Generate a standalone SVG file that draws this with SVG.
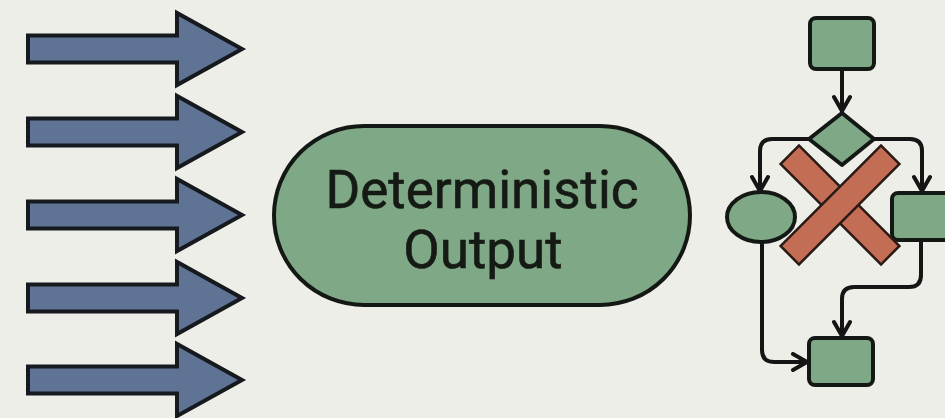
<svg xmlns="http://www.w3.org/2000/svg" width="945" height="418" viewBox="0 0 945 418">
  <defs>
    <style>
      .bg { fill: #eeeee8; }
      .input { fill: #5f7395; stroke: #161a1e; stroke-width: 4; stroke-linejoin: miter; }
      .node { fill: #7fa886; stroke: #141814; stroke-width: 4; }
      .label { font-family: Roboto, "Liberation Sans", sans-serif; font-size: 53px; fill: #151a15; text-anchor: middle; stroke: #151a15; stroke-width: 0.6; }
      .link { fill: none; stroke: #151515; stroke-width: 4; stroke-linecap: round; stroke-linejoin: round; }
      .cross { fill: #c46d55; stroke: #2a1a15; stroke-width: 2.5; }
    </style>
    <marker id="chevron" viewBox="0 0 20 20" refX="17" refY="10" markerWidth="20" markerHeight="20" markerUnits="userSpaceOnUse" orient="auto">
      <path d="M3 2 L17 10 L3 18" fill="none" stroke="#151515" stroke-width="4" stroke-linecap="round" stroke-linejoin="round"/>
    </marker>
  </defs>

  <rect class="bg" x="0" y="0" width="945" height="418"/>

  <!-- incoming block arrows -->
  <g id="inputs">
    <path class="input" d="M28 35.5 H177 V13 L242 49 L177 85 V62.5 H28 Z"/>
    <path class="input" d="M28 35.5 H177 V13 L242 49 L177 85 V62.5 H28 Z" transform="translate(0,83)"/>
    <path class="input" d="M28 35.5 H177 V13 L242 49 L177 85 V62.5 H28 Z" transform="translate(0,166)"/>
    <path class="input" d="M28 35.5 H177 V13 L242 49 L177 85 V62.5 H28 Z" transform="translate(0,249)"/>
    <path class="input" d="M28 35.5 H177 V13 L242 49 L177 85 V62.5 H28 Z" transform="translate(0,331)"/>
  </g>

  <!-- central result node -->
  <g id="deterministic-output">
    <rect class="node" x="274" y="126" width="416" height="179" rx="90" ry="89.5"/>
    <text class="label" x="482" y="208">Deterministic</text>
    <text class="label" x="483" y="268">Output</text>
  </g>

  <!-- flowchart connectors -->
  <g id="connectors">
    <path class="link" d="M842 69 V111" marker-end="url(#chevron)"/>
    <path class="link" d="M809 139 H772 Q760 139 760 151 V191" marker-end="url(#chevron)"/>
    <path class="link" d="M874 139 H910 Q922 139 922 151 V191" marker-end="url(#chevron)"/>
    <path class="link" d="M762 242 V350 Q762 362 774 362 H807" marker-end="url(#chevron)"/>
    <path class="link" d="M921 240 V275 Q921 287 909 287 H854 Q842 287 842 299 V336" marker-end="url(#chevron)"/>
  </g>

  <!-- flowchart nodes -->
  <g id="start-step">
    <rect class="node" x="810" y="18" width="64" height="51" rx="6"/>
  </g>
  <g id="decision">
    <path class="node" d="M842 113 L874 139 L842 165 L809 139 Z" stroke-linejoin="round"/>
  </g>
  <g id="left-branch">
    <ellipse class="node" cx="761" cy="217" rx="34" ry="25"/>
  </g>
  <g id="right-branch">
    <rect class="node" x="892" y="193" width="70" height="47" rx="6"/>
  </g>
  <g id="end-step">
    <rect class="node" x="809" y="338" width="64" height="47" rx="6"/>
  </g>

  <!-- crossed-out mark over the branching -->
  <g id="rejected">
    <rect class="cross" x="769" y="192" width="142" height="26" transform="rotate(45 840 205)"/>
    <rect class="cross" x="769" y="192" width="142" height="26" transform="rotate(-45 840 205)"/>
  </g>
</svg>
